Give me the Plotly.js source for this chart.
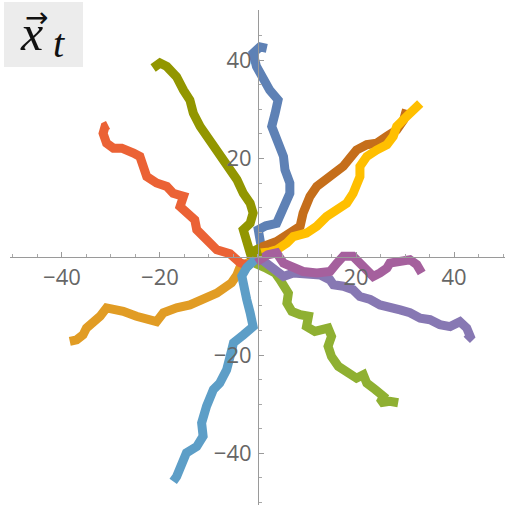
<!DOCTYPE html>
<html>
<head>
<meta charset="utf-8">
<script src="https://cdn.plot.ly/plotly-3.0.1.min.js"></script>
<style>
  html, body { margin: 0; padding: 0; background: #ffffff; }
  #plot { width: 506px; height: 507px; }
</style>
</head>
<body>
<div id="plot"></div>
<script>
// Ten 2-D random walks started at the origin, drawn as thick paths.
const walk1X = [0, 0.6, 0.06, 1.6, 3.8, 5.2, 6.5, 6.5, 5.5, 5.2, 4.5, 3.5, 2.8, 3.5, 4.1, 2.4, 1.1, -0.3, -1.0, 0.4, 1.8];
const walk1Y = [0, 2.4, 5.5, 6.3, 6.8, 9.6, 12.9, 15.0, 17.7, 20.4, 22.4, 24.5, 26.5, 29.2, 31.9, 33.9, 36.0, 38.7, 41.4, 42.7, 42.4];

const walk2X = [0, -2.0, -3.7, -4.3, -5.4, -8.4, -11.2, -13.9, -16.6, -19.3, -20.7, -22.7, -24.8, -27.5, -30.9, -32.2, -33.6, -35.0, -35.7, -37.0, -38.4];
const walk2Y = [0, -1.4, -2.2, -3.7, -5.3, -7.4, -8.7, -9.8, -10.4, -11.4, -13.2, -12.8, -12.1, -11.1, -10.4, -12.1, -13.2, -14.5, -15.9, -16.9, -17.2];

const walk3X = [0, 0, 1.4, 3.5, 4.5, 5.2, 6.2, 5.9, 6.9, 8.6, 10.3, 9.9, 11.6, 14.3, 15.0, 14.3, 15.0, 16.4, 18.1, 20.1, 21.5, 22.2, 23.9, 25.6, 24.9, 26.9, 28.6];
const walk3Y = [0, -1.6, -2.2, -3.3, -4.7, -6.0, -7.4, -9.4, -11.1, -11.8, -12.1, -14.2, -15.2, -14.5, -16.2, -18.2, -20.3, -22.3, -23.6, -24.7, -24.0, -25.7, -27.0, -28.4, -29.7, -29.4, -29.7];

const walk4X = [0, -2.0, -3.7, -5.7, -8.4, -9.8, -11.2, -12.5, -12.9, -14.6, -15.9, -15.2, -17.3, -18.6, -20.7, -22.7, -23.4, -24.1, -25.4, -27.8, -29.5, -30.9, -31.6, -31.2, -30.6];
const walk4Y = [0, -1.8, -1.2, 0.6, 1.4, 2.8, 4.1, 5.5, 7.5, 8.9, 10.2, 12.3, 12.9, 14.3, 15.0, 16.3, 18.4, 20.4, 21.1, 22.1, 22.1, 23.1, 25.1, 26.5, 26.8];

const walk5X = [0, 1.4, 2.4, 5.2, 7.2, 9.9, 12.7, 14.7, 15.4, 17.4, 19.4, 20.8, 22.9, 24.9, 26.9, 29.0, 31.0, 33.1, 35.1, 37.1, 39.2, 41.2, 42.6, 43.3, 42.6];
const walk5Y = [0, -1.0, -2.2, -4.0, -3.3, -3.3, -3.7, -4.7, -5.7, -6.0, -6.7, -8.1, -8.7, -9.8, -10.1, -10.8, -11.4, -12.5, -12.8, -13.8, -14.2, -13.2, -14.5, -16.2, -16.9];

const walk6X = [0, 0.4, 1.1, 3.8, 6.5, 8.6, 9.2, 10.6, 12.0, 14.0, 15.4, 17.4, 18.8, 20.1, 22.2, 24.2, 26.3, 28.3, 29.7, 30.3];
const walk6Y = [0, 1.0, 2.1, 3.1, 4.8, 6.2, 8.9, 12.3, 14.3, 15.7, 17.0, 18.4, 20.1, 21.7, 22.8, 23.1, 24.5, 25.8, 27.8, 29.9];

const walk7X = [0, -1.2, -2.3, -3.3, -3.0, -2.3, -1.6, -1.0, -3.0, -5.0, -5.7, -6.4, -7.8, -9.1, -10.5, -11.5, -11.2, -12.5, -14.6, -15.6, -16.6, -17.3];
const walk7Y = [0, -1.0, -2.2, -3.9, -6.0, -8.7, -11.4, -14.2, -15.9, -17.5, -20.3, -23.0, -25.7, -27.0, -30.4, -33.8, -36.5, -38.6, -39.9, -42.6, -44.7, -45.7];

const walk8X = [0, 0.8, 2.4, 3.8, 5.9, 7.2, 9.9, 12.0, 14.0, 16.1, 18.1, 19.4, 20.8, 20.8, 22.2, 24.2, 26.3, 27.6, 28.3, 30.3, 31.7, 33.1];
const walk8Y = [0, 0.8, 1.0, 1.4, 2.8, 4.1, 4.8, 6.2, 8.2, 9.6, 10.9, 12.9, 16.3, 18.4, 20.4, 21.7, 22.8, 24.5, 26.5, 28.5, 29.9, 31.2];

const walk9X = [0, 0.4, 2.0, 3.8, 5.2, 7.2, 9.2, 12.0, 14.7, 16.1, 17.4, 19.4, 20.8, 22.2, 23.5, 24.9, 26.3, 26.9, 29.0, 31.0, 32.4, 33.4];
const walk9Y = [0, -0.6, 0.4, 0.8, -1.3, -2.0, -3.0, -3.3, -3.0, -1.3, 0.1, 0.1, -1.3, -3.3, -4.0, -3.3, -2.3, -1.3, -1.0, -0.6, -1.6, -3.3];

const walk10X = [0, -0.4, -1.6, -2.3, -3.0, -1.6, -1.0, -1.6, -3.0, -4.3, -5.7, -7.8, -9.1, -10.5, -11.8, -13.2, -13.9, -15.2, -16.6, -18.6, -20.0, -21.4];
const walk10Y = [0, 1.4, 0.8, 2.8, 5.5, 6.8, 8.9, 10.9, 12.9, 15.7, 17.7, 20.4, 22.4, 24.5, 26.5, 29.2, 31.9, 33.9, 36.6, 38.7, 39.4, 38.4];

const walksX = [walk1X, walk2X, walk3X, walk4X, walk5X, walk6X, walk7X, walk8X, walk9X, walk10X];
const walksY = [walk1Y, walk2Y, walk3Y, walk4Y, walk5Y, walk6Y, walk7Y, walk8Y, walk9Y, walk10Y];

const palette = ['#5E81B5', '#E19C24', '#8FB032', '#EB6235', '#8778B3',
                 '#C56E1A', '#5D9EC7', '#FFBF00', '#A5609D', '#929600'];

const majorTicks = [-40, -20, 20, 40];
const majorTickText = ['\u221240', '\u221220', '20', '40'];

const traces = walksX.map((xs, i) => ({
  type: 'scatter',
  mode: 'lines',
  x: xs,
  y: walksY[i],
  line: { color: palette[i], width: 9, shape: 'linear' },
  hoverinfo: 'skip',
  showlegend: false
}));

const tickFont = { family: '"Open Sans", "Noto Sans", sans-serif', size: 22, color: '#666666' };

const xRange = [-50.6, 50.4];
const yRange = [-50.5, 50.2];
// paper positions of the zero lines, so the axes cross at the origin
const yZeroFrac = (0 - yRange[0]) / (yRange[1] - yRange[0]);
const xZeroFrac = (0 - xRange[0]) / (xRange[1] - xRange[0]);

const axisCommon = {
  showgrid: false,
  zeroline: false,
  showline: true,
  linecolor: '#9a9a9a',
  linewidth: 1,
  ticks: 'inside',
  ticklen: 5,
  tickwidth: 1,
  tickcolor: '#9a9a9a',
  tickmode: 'array',
  tickvals: majorTicks,
  ticktext: majorTickText,
  tickfont: tickFont,
  minor: { ticks: 'inside', ticklen: 3, tickwidth: 1, tickcolor: '#a8a8a8', tickmode: 'linear', tick0: 0, dtick: 5 },
  anchor: 'free',
  fixedrange: true
};

const labelFont = '"Liberation Serif", "DejaVu Serif", serif';

const layout = {
  width: 506,
  height: 507,
  margin: { l: 10, r: 1, t: 10, b: 2 },
  paper_bgcolor: '#ffffff',
  plot_bgcolor: '#ffffff',
  xaxis: Object.assign({}, axisCommon, {
    range: xRange,
    side: 'bottom',
    position: yZeroFrac,
    ticklabelstandoff: 1
  }),
  yaxis: Object.assign({}, axisCommon, {
    range: yRange,
    side: 'left',
    position: xZeroFrac,
    ticklabelstandoff: 2
  }),
  // grey label panel in the top-left corner
  shapes: [{
    type: 'rect',
    xref: 'paper', yref: 'paper',
    x0: -0.0121, x1: 0.1475, y0: 0.8848, y1: 1.0162,
    fillcolor: '#ececec',
    line: { width: 0 },
    layer: 'above'
  }],
  annotations: [
    {
      xref: 'paper', yref: 'paper',
      x: 0.0434, y: 0.9545,
      xanchor: 'center', yanchor: 'middle',
      borderpad: 0,
      showarrow: false,
      text: 'x',
      font: { family: labelFont, size: 50, style: 'italic', color: '#111111' }
    },
    {
      xref: 'paper', yref: 'paper',
      x: 0.0545, y: 1.0202,
      xanchor: 'center', yanchor: 'top',
      borderpad: 0,
      showarrow: false,
      text: '\u2192',
      font: { family: '"DejaVu Sans", sans-serif', size: 28, color: '#111111' }
    },
    {
      xref: 'paper', yref: 'paper',
      x: 0.099, y: 0.9333,
      xanchor: 'center', yanchor: 'middle',
      borderpad: 0,
      showarrow: false,
      text: 't',
      font: { family: labelFont, size: 40, style: 'italic', color: '#111111' }
    }
  ]
};

Plotly.newPlot('plot', traces, layout, { displayModeBar: false, staticPlot: true });
</script>
</body>
</html>
